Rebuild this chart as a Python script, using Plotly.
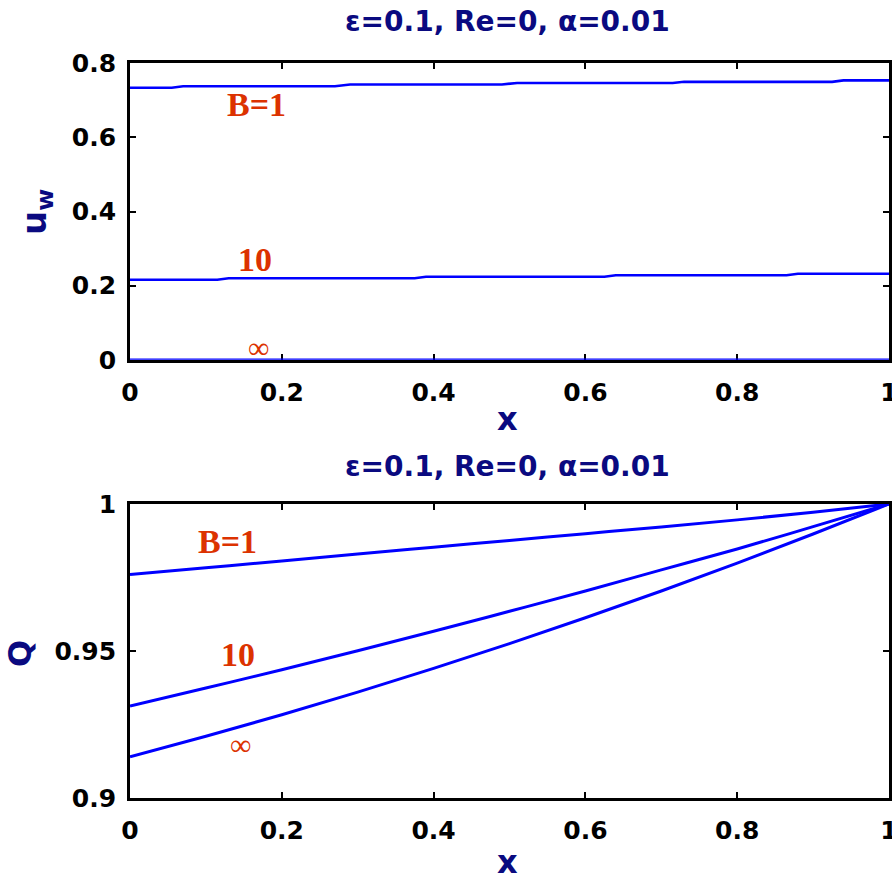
import plotly.graph_objects as go

# ---------------- data ----------------
# top panel: wall velocity u_w vs x
x_uw_b1 = [0, 0.055, 0.07, 0.27, 0.29, 0.49, 0.51, 0.715, 0.73, 0.925, 0.94, 1.0]
uw_b1 = [0.734, 0.734, 0.738, 0.738, 0.743, 0.743, 0.747, 0.747, 0.750, 0.750, 0.754, 0.754]
x_uw_b10 = [0, 0.115, 0.13, 0.375, 0.39, 0.625, 0.64, 0.865, 0.88, 1.0]
uw_b10 = [0.216, 0.216, 0.220, 0.220, 0.224, 0.224, 0.228, 0.228, 0.232, 0.232]
x_uw_binf = [0, 1.0]
uw_binf = [0.0, 0.0]

# bottom panel: flow rate Q vs x
x_q = [0, 0.1, 0.2, 0.3, 0.4, 0.5, 0.6, 0.7, 0.8, 0.9, 1.0]
q_b1 = [0.9760, 0.9783, 0.9806, 0.9830, 0.9853, 0.9876, 0.9899, 0.9922, 0.9946, 0.9972, 1.0]
q_b10 = [0.9313, 0.9374, 0.9436, 0.9501, 0.9567, 0.9635, 0.9704, 0.9776, 0.9847, 0.9923, 1.0]
q_binf = [0.9140, 0.9210, 0.9283, 0.9360, 0.9441, 0.9525, 0.9613, 0.9704, 0.9799, 0.9898, 1.0]

x_ticks = [0, 0.2, 0.4, 0.6, 0.8, 1.0]
x_ticklabels = ["0", "0.2", "0.4", "0.6", "0.8", "1"]
uw_ticks = [0, 0.2, 0.4, 0.6, 0.8]
uw_ticklabels = ["0", "0.2", "0.4", "0.6", "0.8"]
q_ticks = [0.9, 0.95, 1.0]
q_ticklabels = ["0.9", "0.95", "1"]

title_text = "ε=0.1, Re=0, α=0.01"
curve_labels = ["B=1", "10", "∞"]

# ---------------- style ----------------
BLUE = "#0000ff"
NAVY = "#0a0a80"
RED = "#dc3200"
FONT = "DejaVu Sans"
SERIF = "Liberation Serif"

fig = go.Figure()

for xs, ys in [(x_uw_b1, uw_b1), (x_uw_b10, uw_b10), (x_uw_binf, uw_binf)]:
    fig.add_trace(go.Scatter(x=xs, y=ys, mode="lines", line=dict(color=BLUE, width=2.6),
                             xaxis="x", yaxis="y", cliponaxis=False, showlegend=False))
for ys in [q_b1, q_b10, q_binf]:
    fig.add_trace(go.Scatter(x=x_q, y=ys, mode="lines", line=dict(color=BLUE, width=3, shape="spline"),
                             xaxis="x2", yaxis="y2", cliponaxis=False, showlegend=False))

axis_common = dict(showline=True, linecolor="black", linewidth=2.8, mirror="ticks",
                   ticks="inside", ticklen=6, tickwidth=1.5, tickcolor="black",
                   showgrid=False, zeroline=False, layer="below traces",
                   automargin=False, ticklabeloverflow="allow",
                   tickfont=dict(family=FONT, size=25, color="black", weight="bold"))

xdom = [130 / 892, 889 / 892]
fig.update_layout(
    width=892, height=879,
    margin=dict(l=0, r=0, t=0, b=0, autoexpand=False),
    paper_bgcolor="white", plot_bgcolor="white",
    xaxis=dict(domain=xdom, range=[0, 1], tickvals=x_ticks, ticktext=x_ticklabels,
               anchor="y", ticklabelstandoff=8, **axis_common),
    yaxis=dict(domain=[1 - 359.8 / 879, 1 - 63.3 / 879], range=[0, 0.8],
               tickvals=uw_ticks, ticktext=uw_ticklabels, anchor="x",
               ticklabelstandoff=6, **axis_common),
    xaxis2=dict(domain=xdom, range=[0, 1], tickvals=x_ticks, ticktext=x_ticklabels,
                anchor="y2", ticklabelstandoff=8, **axis_common),
    yaxis2=dict(domain=[1 - 798 / 879, 1 - 504 / 879], range=[0.9, 1.0],
                tickvals=q_ticks, ticktext=q_ticklabels, anchor="x2",
                ticklabelstandoff=6, **axis_common),
)

ann = []
title_font = dict(family=FONT, size=28, color=NAVY, weight="bold")
label_font = dict(family=FONT, size=32, color=NAVY, weight="bold")
for py in [22, 466]:
    ann.append(dict(text=title_text, x=507 / 892, y=1 - py / 879, xref="paper", yref="paper",
                    showarrow=False, font=title_font, xanchor="center", yanchor="middle"))
for py in [419, 862]:
    ann.append(dict(text="x", x=507 / 892, y=1 - py / 879, xref="paper", yref="paper",
                    showarrow=False, font=label_font, xanchor="center", yanchor="middle"))
ann.append(dict(text="u<sub>w</sub>", x=36 / 892, y=1 - 212 / 879, xref="paper", yref="paper",
                showarrow=False, font=dict(family=FONT, size=34, color=NAVY, weight="bold"),
                textangle=-90, xanchor="center", yanchor="middle"))
ann.append(dict(text="Q", x=20 / 892, y=1 - 654 / 879, xref="paper", yref="paper",
                showarrow=False, font=dict(family=FONT, size=32, color=NAVY, weight="bold"),
                textangle=-90, xanchor="center", yanchor="middle"))

# curve labels (data coordinates)
top_pos = [(0.167, 0.688), (0.165, 0.270), (0.169, 0.032)]
bot_pos = [(0.129, 0.9874), (0.1427, 0.9488), (0.1453, 0.9182)]
for (lx, ly), lab in zip(top_pos, curve_labels):
    bold = "bold" if lab != "∞" else "normal"
    ann.append(dict(text=lab, x=lx, y=ly, xref="x", yref="y", showarrow=False,
                    font=dict(family=SERIF, size=34 if lab != "∞" else 30, color=RED, weight=bold),
                    xanchor="center", yanchor="middle"))
for (lx, ly), lab in zip(bot_pos, curve_labels):
    bold = "bold" if lab != "∞" else "normal"
    ann.append(dict(text=lab, x=lx, y=ly, xref="x2", yref="y2", showarrow=False,
                    font=dict(family=SERIF, size=34 if lab != "∞" else 30, color=RED, weight=bold),
                    xanchor="center", yanchor="middle"))

fig.update_layout(annotations=ann)
fig.write_html("out.html")
